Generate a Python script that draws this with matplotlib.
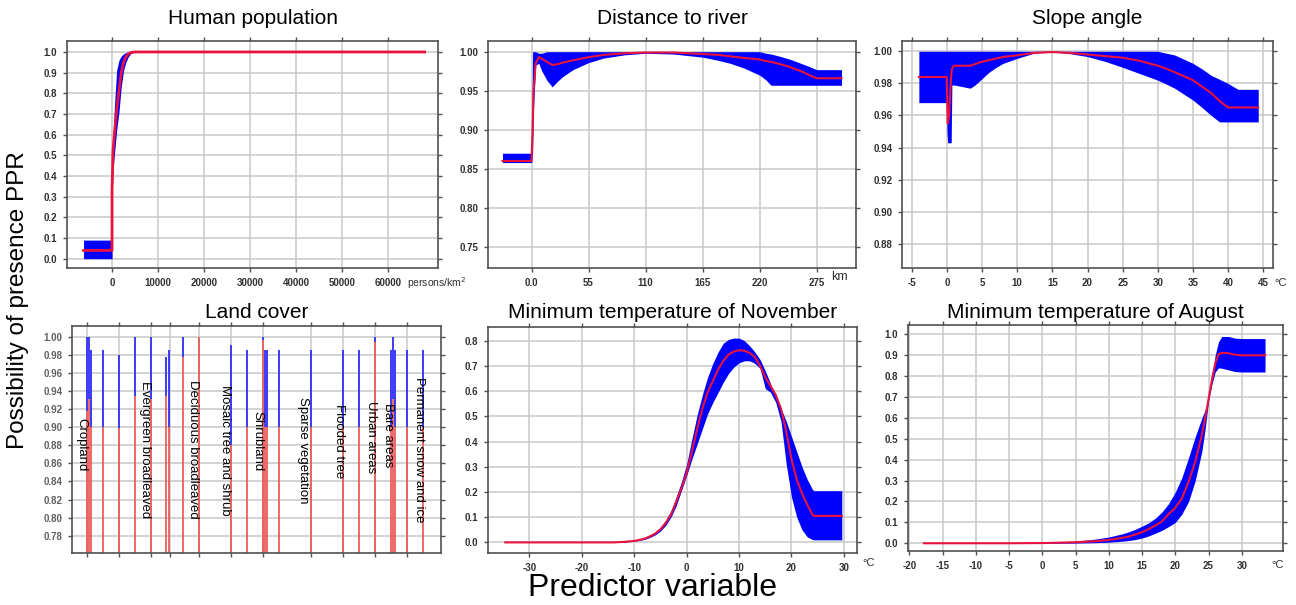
import matplotlib.pyplot as plt
import numpy as np
from matplotlib.transforms import blended_transform_factory

plt.rcParams['font.family'] = ['Liberation Sans', 'DejaVu Sans']

# ---- Human population (persons/km2)
pop_x = [-6200, -1, 0, 0, 200, 500, 1000, 1500, 2000, 2500, 3000, 3500, 4000, 4500, 5000, 68000]
pop_mean = [0.04, 0.04, 0.04, 0.33, 0.52, 0.60, 0.72, 0.81, 0.90, 0.95, 0.975, 0.99, 0.996, 0.999, 1.0, 1.0]
pop_low = [0.0, 0.0, 0.0, 0.30, 0.42, 0.50, 0.62, 0.71, 0.83, 0.91, 0.95, 0.975, 0.99, 0.997, 1.0, 1.0]
pop_high = [0.09, 0.09, 0.09, 0.50, 0.58, 0.73, 0.91, 0.96, 0.98, 0.99, 0.997, 1.0, 1.0, 1.0, 1.0, 1.0]

# ---- Distance to river (km)
river_x = [-28, -0.3, 0, 1, 2, 4, 7, 10, 15, 20, 25, 30, 40, 55, 70, 90, 110, 137, 165, 180, 192,
           205, 220, 226, 231, 240, 250, 260, 268, 275, 299]
river_mean = [0.860, 0.860, 0.860, 0.90, 0.95, 0.985, 0.993, 0.991, 0.987, 0.983, 0.984, 0.986,
              0.989, 0.993, 0.996, 0.998, 0.999, 0.999, 0.997, 0.996, 0.994, 0.992, 0.990, 0.988,
              0.987, 0.984, 0.980, 0.975, 0.970, 0.966, 0.966]
river_low = [0.858, 0.858, 0.858, 0.87, 0.93, 0.983, 0.985, 0.975, 0.963, 0.955, 0.962, 0.968,
             0.977, 0.986, 0.992, 0.996, 0.998, 0.997, 0.993, 0.989, 0.985, 0.979, 0.970, 0.964,
             0.957, 0.957, 0.957, 0.957, 0.957, 0.957, 0.957]
river_high = [0.870, 0.870, 0.870, 1.0, 1.0, 1.0, 0.998, 0.998, 1.0, 1.0, 1.0, 1.0,
              1.0, 1.0, 1.0, 1.0, 1.0, 1.0, 1.0, 1.0, 1.0, 1.0, 1.0, 0.998,
              0.997, 0.994, 0.990, 0.985, 0.981, 0.977, 0.977]

# ---- Slope angle (deg)
slope_x = [-4, -0.05, 0.0, 0.1, 0.3, 0.6, 0.7, 1.0, 3.3, 4, 5, 6, 7, 8, 10, 12.4, 15, 17.5, 20, 22.5,
           25, 27.5, 30, 31, 32.4, 35, 36.3, 37.6, 38.8, 40, 41.4, 44.3]
slope_mean = [0.984, 0.984, 0.975, 0.955, 0.960, 0.985, 0.989, 0.991, 0.991, 0.992, 0.9935, 0.9945,
              0.9955, 0.9965, 0.9975, 0.999, 0.9995, 0.999, 0.998, 0.997, 0.996, 0.994, 0.991, 0.9895,
              0.987, 0.982, 0.978, 0.974, 0.969, 0.965, 0.965, 0.965]
slope_low = [0.968, 0.968, 0.950, 0.943, 0.943, 0.943, 0.979, 0.979, 0.977, 0.979, 0.983, 0.987,
             0.990, 0.9925, 0.9956, 0.9988, 0.9996, 0.9985, 0.9967, 0.9937, 0.990, 0.986, 0.982,
             0.980, 0.977, 0.9696, 0.965, 0.960, 0.956, 0.956, 0.956, 0.956]
slope_high = [1.0, 1.0, 1.0, 1.0, 1.0, 1.0, 1.0, 1.0, 1.0, 1.0, 1.0, 1.0, 1.0, 1.0, 1.0, 1.0, 1.0,
              1.0, 1.0, 1.0, 1.0, 1.0, 1.0, 0.999, 0.9977, 0.9925, 0.989, 0.985, 0.9825, 0.980,
              0.9763, 0.9763]

# ---- Land cover (category bars)
lc_pos = [0, 0.12, 0.22, 1, 2, 3, 4, 4.92, 5.08, 6, 7, 9, 10, 11, 11.12, 11.22, 12, 14, 16, 17, 18,
          19, 19.12, 19.22, 20, 21]
lc_mean = [0.918, 0.931, 0.90, 0.90, 0.899, 0.934, 0.931, 0.935, 0.90, 0.977, 1.0, 0.88, 0.90, 0.996,
           0.90, 0.90, 0.90, 0.90, 0.90, 0.90, 0.994, 0.90, 0.931, 0.90, 0.90, 0.90]
lc_high = [1.0, 1.0, 0.985, 0.985, 0.98, 1.0, 1.0, 0.977, 0.985, 1.0, 1.0, 0.991, 0.985, 1.0, 0.985,
           0.985, 0.985, 0.985, 0.985, 0.985, 1.0, 0.985, 1.0, 0.985, 0.985, 0.985]
lc_names = ['Cropland', 'Evergreen broadleaved', 'Deciduous broadleaved', 'Mosaic tree and shrub',
            'Shrubland', 'Sparse vegetation', 'Flooded tree', 'Urban areas', 'Bare areas',
            'Permanent snow and ice']

# ---- Minimum temperature of November
nov_x = [-34.6, -14, -12, -10, -9, -8, -7, -6, -5, -4, -3, -2, -1, 0, 1, 2, 3, 4, 5, 6, 7, 8, 9, 10,
         11, 12, 13, 14, 15, 16, 17, 18, 19, 20, 21, 22, 23, 24, 24.3, 29.6]
nov_mean = [0.0, 0.0, 0.002, 0.006, 0.01, 0.015, 0.024, 0.035, 0.052, 0.077, 0.11, 0.16, 0.215,
            0.275, 0.36, 0.45, 0.53, 0.595, 0.64, 0.685, 0.72, 0.745, 0.757, 0.762, 0.76, 0.752,
            0.735, 0.70, 0.655, 0.62, 0.585, 0.53, 0.44, 0.33, 0.25, 0.195, 0.15, 0.11, 0.105, 0.105]
nov_low = [0.0, 0.0, 0.001, 0.005, 0.008, 0.012, 0.02, 0.03, 0.045, 0.068, 0.10, 0.145, 0.205,
           0.265, 0.33, 0.39, 0.45, 0.51, 0.555, 0.595, 0.635, 0.67, 0.695, 0.712, 0.72, 0.72,
           0.71, 0.69, 0.61, 0.595, 0.555, 0.48, 0.31, 0.18, 0.10, 0.05, 0.022, 0.011, 0.01, 0.01]
nov_high = [0.0, 0.0, 0.003, 0.007, 0.012, 0.018, 0.028, 0.04, 0.06, 0.088, 0.125, 0.18, 0.24,
            0.31, 0.41, 0.505, 0.585, 0.655, 0.71, 0.755, 0.79, 0.805, 0.81, 0.81, 0.80, 0.78,
            0.755, 0.725, 0.68, 0.63, 0.575, 0.53, 0.48, 0.42, 0.36, 0.30, 0.25, 0.21, 0.205, 0.205]

# ---- Minimum temperature of August
aug_x = [-17.8, -5, 0, 5, 8, 10, 12, 13, 14, 15, 16, 17, 18, 19, 20, 21, 22, 23, 24, 24.5, 25, 25.5,
         26, 26.5, 27, 28, 29, 30, 33.5]
aug_mean = [0.0, 0.0, 0.001, 0.005, 0.01, 0.016, 0.026, 0.032, 0.042, 0.053, 0.068, 0.085, 0.105,
            0.14, 0.17, 0.215, 0.295, 0.39, 0.52, 0.60, 0.69, 0.78, 0.86, 0.905, 0.912, 0.91,
            0.903, 0.90, 0.90]
aug_low = [0.0, 0.0, 0.0, 0.001, 0.003, 0.005, 0.01, 0.013, 0.018, 0.025, 0.035, 0.048, 0.062, 0.08,
           0.10, 0.14, 0.20, 0.30, 0.44, 0.55, 0.68, 0.76, 0.82, 0.84, 0.838, 0.83, 0.822, 0.82, 0.82]
aug_high = [0.0, 0.0, 0.003, 0.01, 0.02, 0.03, 0.045, 0.055, 0.067, 0.082, 0.098, 0.12, 0.15, 0.19,
            0.245, 0.315, 0.41, 0.51, 0.60, 0.64, 0.70, 0.80, 0.90, 0.965, 0.99, 0.99, 0.982, 0.98,
            0.98]

W, H = 1296, 605
BAND = '#0000ff'
LINE = '#e8123c'
GRID = '#c8c8c8'
FRAME = '#505050'

fig = plt.figure(figsize=(W / 100, H / 100), dpi=100)


def make_axes(left, right, top, bottom):
    return fig.add_axes([left / W, 1 - bottom / H, (right - left) / W, (bottom - top) / H])


def style(ax, xlim, ylim, xticks, yticks, xlabels, ylabels):
    ax.set_xlim(xlim)
    ax.set_ylim(ylim)
    ax.set_xticks(xticks)
    ax.set_yticks(yticks)
    ax.set_xticklabels(xlabels)
    ax.set_yticklabels(ylabels)
    ax.grid(True, color=GRID, lw=1.1)
    ax.set_axisbelow(True)
    for s in ax.spines.values():
        s.set_color(FRAME)
        s.set_linewidth(1.2)
    ax.tick_params(direction='out', length=3, width=1, color=FRAME, labelsize=7,
                   labelcolor='#303030', top=True, right=True, pad=4)
    for lab in ax.get_xticklabels() + ax.get_yticklabels():
        lab.set_fontweight('bold')


def band(ax, x, lo, hi, mid, lw=1.5):
    ax.fill_between(x, lo, hi, color=BAND, lw=0)
    ax.plot(x, mid, color=LINE, lw=lw)


def title(ax, text, y):
    b = ax.get_position()
    fig.text((b.x0 + b.x1) / 2, 1 - y / H, text, ha='center', va='center', fontsize=15)


# Human population
ax1 = make_axes(67, 438, 41, 268)
band(ax1, pop_x, pop_low, pop_high, pop_mean, lw=2)
yt = np.round(np.arange(0, 1.01, 0.1), 1)
xt = np.arange(0, 60001, 10000)
style(ax1, (-9800, 70900), (-0.045, 1.053), xt, yt, [str(v) for v in xt], ['%.1f' % v for v in yt])
tr = blended_transform_factory(ax1.transData, ax1.transAxes)
ax1.text(64200, -0.068, 'persons/km$^2$', transform=tr, fontsize=7.5, va='center', ha='left',
         color='#303030', clip_on=False)
title(ax1, 'Human population', 18)

# Distance to river
ax2 = make_axes(488, 856, 41, 268)
band(ax2, river_x, river_low, river_high, river_mean)
yt = np.round(np.arange(0.75, 1.001, 0.05), 2)
xt = [0, 55, 110, 165, 220, 275]
style(ax2, (-42, 313), (0.723, 1.0137), xt, yt, ['0.0', '55', '110', '165', '220', '275'],
      ['%.2f' % v for v in yt])
tr = blended_transform_factory(ax2.transData, ax2.transAxes)
ax2.text(289, -0.04, 'km', transform=tr, fontsize=9, va='center', ha='left', color='#303030')
title(ax2, 'Distance to river', 18)

# Slope angle
ax3 = make_axes(902, 1273, 41, 268)
band(ax3, slope_x, slope_low, slope_high, slope_mean)
yt = np.round(np.arange(0.88, 1.001, 0.02), 2)
xt = np.arange(-5, 46, 5)
style(ax3, (-6.4, 46.4), (0.865, 1.0064), xt, yt, [str(v) for v in xt], ['%.2f' % v for v in yt])
tr = blended_transform_factory(ax3.transData, ax3.transAxes)
ax3.text(46.6, -0.068, '°C', transform=tr, fontsize=8, va='center', ha='left', color='#303030')
title(ax3, 'Slope angle', 18)

# Land cover
ax4 = make_axes(72, 441, 326, 553)
ax4.vlines(lc_pos, 0.70, lc_mean, colors='#ea5050', lw=1.4, alpha=0.85)
ax4.vlines(lc_pos, lc_mean, lc_high, colors='#3b3bf2', lw=1.4)
yt = np.round(np.arange(0.78, 1.001, 0.02), 2)
xt = [0, 2, 4, 5.15, 7, 9, 11, 14, 16, 18, 20]
style(ax4, (-0.96, 22.1), (0.761, 1.0118), xt, yt, [''] * len(xt), ['%.2f' % v for v in yt])
for lab in ax4.get_yticklabels():
    lab.set_color('#606060')
lab_x = [-0.4, 3.6, 6.6, 8.6, 10.6, 13.5, 15.7, 17.7, 18.8, 20.7]
lab_y = [0.881, 0.875, 0.875, 0.874, 0.885, 0.875, 0.885, 0.889, 0.891, 0.875]
for name, lx, ly in zip(lc_names, lab_x, lab_y):
    ax4.text(lx, ly, name, rotation=-90, ha='center', va='center', fontsize=9.5)
title(ax4, 'Land cover', 312)

# Minimum temperature of November
ax5 = make_axes(488, 857, 327, 553)
band(ax5, nov_x, nov_low, nov_high, nov_mean)
yt = np.round(np.arange(0, 0.81, 0.1), 1)
xt = np.arange(-30, 31, 10)
style(ax5, (-37.9, 32.5), (-0.042, 0.854), xt, yt, [str(v) for v in xt], ['%.1f' % v for v in yt])
tr = blended_transform_factory(ax5.transData, ax5.transAxes)
ax5.text(33.5, -0.045, '°C', transform=tr, fontsize=8, va='center', ha='left', color='#303030',
         clip_on=False)
title(ax5, 'Minimum temperature of November', 312)

# Minimum temperature of August
ax6 = make_axes(908, 1283, 325, 551)
band(ax6, aug_x, aug_low, aug_high, aug_mean)
yt = np.round(np.arange(0, 1.01, 0.1), 1)
xt = np.arange(-20, 31, 5)
style(ax6, (-20.2, 36.2), (-0.037, 1.045), xt, yt, [str(v) for v in xt], ['%.1f' % v for v in yt])
tr = blended_transform_factory(ax6.transData, ax6.transAxes)
ax6.text(34.5, -0.062, '°C', transform=tr, fontsize=8, va='center', ha='left', color='#303030')
title(ax6, 'Minimum temperature of August', 312)

fig.text(18 / W, 1 - 300 / H, 'Possibility of presence PPR', rotation=90, ha='center', va='center',
         fontsize=17.5)
fig.text(653 / W, 1 - 588 / H, 'Predictor variable', ha='center', va='center', fontsize=23)

fig.savefig('out.png', dpi=100)
